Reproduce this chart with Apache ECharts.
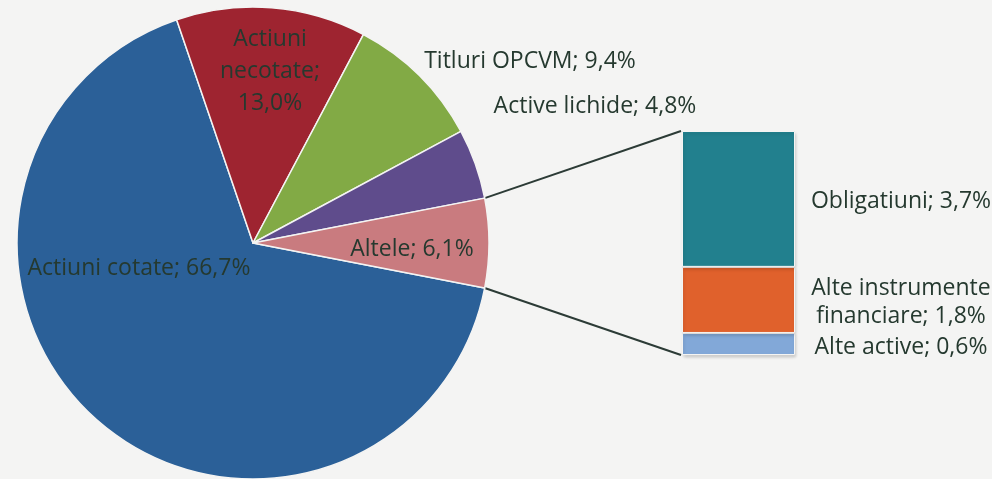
<!DOCTYPE html>
<html style="height: 100%">
<head>
	<meta charset="utf-8">
</head>
<body style="height: 100%; margin: 0; background: #f4f4f3">
	<div id="container" style="width: 992px; height: 479px"></div>
	<script type="text/javascript" src="https://cdn.jsdelivr.net/npm/echarts@6/dist/echarts.min.js"></script>
	<script type="text/javascript">
		// date
		var pieNames = ['Actiuni cotate', 'Actiuni\nnecotate', 'Titluri OPCVM', 'Active lichide', 'Altele'];
		var pieValues = [66.7, 13.0, 9.4, 4.8, 6.1];
		var barNames = ['Obligatiuni', 'Alte instrumente\nfinanciare', 'Alte active'];
		var barValues = [3.7, 1.8, 0.6];

		var pieColors = ['#2b6098', '#9e2430', '#82aa45', '#5f4c8c', '#c97b7f'];
		var barColors = ['#22808e', '#e0612c', '#82a8d8'];

		var textColor = '#25392f';
		var font = '"Open Sans", sans-serif';
		var fontSize = 23;
		var cx = 253, cy = 243, R = 236, startAngle = -11;
		var barLeft = 682, barTop = 131, barW = 113, barH = 224;

		// pozitii etichete felii
		var pieLabelPos = [[139, 268], [270, 71], [530, 61], [595, 106], [412, 249]];

		function fmt(v) {
			return v.toFixed(1).replace('.', ',') + '%';
		}

		var dom = document.getElementById('container');
		var myChart = echarts.init(dom);

		var pieData = pieNames.map(function (n, i) {
			return { name: n, value: pieValues[i], itemStyle: { color: pieColors[i] } };
		});

		// stiva se construieste de jos in sus, deci ordinea inversa
		var barSeries = [];
		for (var k = barNames.length - 1; k >= 0; k--) {
			barSeries.push({
				type: 'bar',
				name: barNames[k],
				stack: 'altele',
				barWidth: '100%',
				data: [barValues[k]],
				itemStyle: {
					color: barColors[k], borderColor: '#f4f4f3', borderWidth: 1,
					shadowColor: 'rgba(0,0,0,0.15)', shadowBlur: 3, shadowOffsetX: 1, shadowOffsetY: 2
				},
				label: {
					show: true,
					position: 'right',
					distance: 106,
					align: 'center',
					offset: [0, 3],
					color: textColor,
					fontFamily: font,
					fontSize: fontSize,
					lineHeight: 28,
					formatter: function (p) { return p.seriesName + '; ' + fmt(p.value); }
				},
				silent: true
			});
		}

		var option = {
			backgroundColor: '#f4f4f3',
			animation: false,
			grid: { left: barLeft, top: barTop, width: barW, height: barH },
			xAxis: { type: 'category', data: [''], show: false },
			yAxis: { type: 'value', min: 0, max: 6.1, show: false },
			series: [{
				type: 'pie',
				center: [cx, cy],
				radius: R,
				startAngle: startAngle,
				clockwise: true,
				data: pieData,
				itemStyle: { borderColor: '#f4f4f3', borderWidth: 1.5 },
				label: {
					show: true,
					position: 'inside',
					color: textColor,
					fontFamily: font,
					fontSize: fontSize,
					lineHeight: 32,
					formatter: function (p) {
						var sep = p.dataIndex === 1 ? ';\n' : '; ';
						return p.name + sep + fmt(p.value);
					}
				},
				labelLine: { show: false },
				labelLayout: function (p) {
					var pos = pieLabelPos[p.dataIndex];
					return { x: pos[0], y: pos[1], align: 'center', verticalAlign: 'middle' };
				},
				silent: true
			}].concat(barSeries)
		};

		myChart.setOption(option);

		// linii de legatura intre felia Altele si bara
		var total = pieValues.reduce(function (a, b) { return a + b; }, 0);
		var before = 0;
		for (var i = 0; i < 4; i++) before += pieValues[i];
		var a1 = (startAngle - before / total * 360) * Math.PI / 180;
		var a2 = (startAngle - (before + pieValues[4]) / total * 360) * Math.PI / 180;
		var p1 = [cx + R * Math.cos(a1), cy - R * Math.sin(a1)];
		var p2 = [cx + R * Math.cos(a2), cy - R * Math.sin(a2)];
		var lineStyle = { stroke: '#2c3b36', lineWidth: 2 };
		myChart.setOption({
			graphic: [
				{ type: 'line', shape: { x1: p1[0], y1: p1[1], x2: barLeft - 1, y2: barTop }, style: lineStyle, silent: true },
				{ type: 'line', shape: { x1: p2[0], y1: p2[1], x2: barLeft - 1, y2: barTop + barH }, style: lineStyle, silent: true }
			]
		});
	</script>
</body>
</html>
